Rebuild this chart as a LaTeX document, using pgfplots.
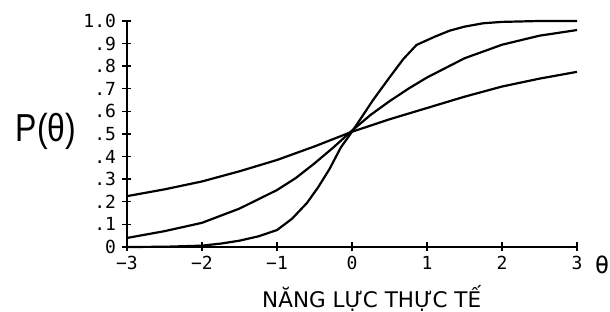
\documentclass[border=0pt]{standalone}
\usepackage{fontspec}
\usepackage{pgfplots}
\pgfplotsset{compat=1.18}
\setmainfont{DejaVu Sans}
\newfontfamily\monof{DejaVu Sans Mono}
\newfontfamily\pfont{Liberation Sans}
\begin{document}
\begin{tikzpicture}
\begin{axis}[
  scale only axis, width=450pt, height=226pt,
  xmin=-3, xmax=3, ymin=0, ymax=1,
  axis x line=bottom, axis y line=left,
  axis line style={line width=2.6pt,-},
  clip=false,
  xtick={-3,-2,-1,0,1,2,3},
  xticklabels={−3,−2,−1,0,1,2,3},
  ytick={0,0.1,0.2,0.3,0.4,0.5,0.6,0.7,0.8,0.9,1},
  yticklabels={0,.1,.2,.3,.4,.5,.6,.7,.8,.9,1.0},
  tick align=center, major tick length=9pt,
  tick style={line width=1.4pt, black},
  ticklabel style={font=\monof\fontsize{18}{18}\selectfont},
  yticklabel style={xshift=-3pt},
  xticklabel style={yshift=-1pt},
]
\addplot[black, line width=2.2pt, line join=round] coordinates {
(-3,0.225) (-2.5,0.255) (-2,0.29) (-1.5,0.335) (-1,0.385) (-0.5,0.445)
(0,0.51) (0.5,0.565) (1,0.615) (1.5,0.665) (2,0.71) (2.5,0.745) (3,0.775)};
\addplot[black, line width=2.2pt, line join=round] coordinates {
(-3,0.04) (-2.5,0.07) (-2,0.107) (-1.5,0.17) (-1,0.252) (-0.75,0.305)
(-0.5,0.37) (-0.25,0.44) (0,0.515) (0.25,0.585) (0.5,0.645) (0.75,0.7)
(1,0.75) (1.5,0.835) (2,0.895) (2.5,0.935) (3,0.96)};
\addplot[black, line width=2.2pt, line join=round] coordinates {
(-3,0) (-2.5,0.001) (-2,0.006) (-1.75,0.015) (-1.5,0.028) (-1.25,0.047)
(-1,0.075) (-0.8,0.125) (-0.6,0.195) (-0.45,0.265) (-0.3,0.345)
(-0.15,0.44) (0,0.51) (0.28,0.65) (0.5,0.75) (0.68,0.83) (0.86,0.894)
(1.1,0.93) (1.3,0.957) (1.5,0.975) (1.75,0.99) (2,0.996) (2.5,1.0) (3,1.0)};
\coordinate (O) at (rel axis cs:0,0);
\end{axis}
\node[anchor=base west, xscale=0.82, font=\pfont\fontsize{39}{39}\selectfont] at ([shift={(-114pt,105pt)}]O) {P(θ)};
\node[anchor=base, font=\fontsize{21.5}{22}\selectfont] at ([shift={(244.7pt,-61pt)}]O) {NĂNG LỰC THỰC TẾ};
\node[font=\monof\fontsize{24}{24}\selectfont, inner sep=0pt] at ([shift={(475pt,-18pt)}]O) {θ};
\pgfresetboundingbox
\path[use as bounding box] (O) ++(-127pt,-65pt) rectangle ++(610pt,312pt);
\end{tikzpicture}
\end{document}
